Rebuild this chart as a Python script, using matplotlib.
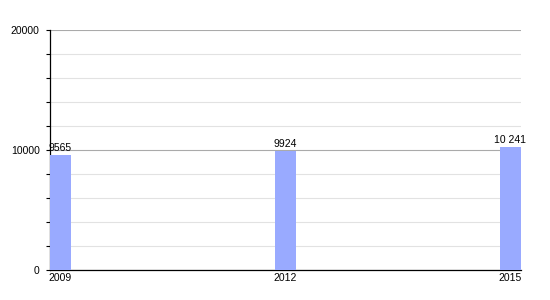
import matplotlib.pyplot as plt
from matplotlib.ticker import MultipleLocator

plt.rcParams['font.family'] = ['Liberation Sans', 'DejaVu Sans']

# data
years = [2009, 2012, 2015]
population = [9565, 9924, 10241]
value_labels = ['9565', '9924', '10 241']

fig = plt.figure(figsize=(5.5, 3), dpi=100)
ax = fig.add_axes([50 / 550, 0.1, 471 / 550, 0.8])

bars = ax.bar(years, population, width=0.28, color='#99aaff', zorder=3)

for b, lab in zip(bars, value_labels):
    ax.text(b.get_x() + b.get_width() / 2, b.get_height() + 150, lab,
            ha='center', va='bottom', fontsize=7.5, zorder=4)

ax.set_xlim(2009 - 0.14, 2015 + 0.14)
ax.set_ylim(0, 20000)
ax.set_xticks(years)
ax.set_xticklabels([str(y) for y in years])
ax.yaxis.set_major_locator(MultipleLocator(10000))
ax.yaxis.set_minor_locator(MultipleLocator(2000))

ax.grid(axis='y', which='major', color='#aaaaaa', linewidth=0.8, zorder=1)
ax.grid(axis='y', which='minor', color='#e2e2e2', linewidth=0.8, zorder=1)

for s in ['top', 'right']:
    ax.spines[s].set_visible(False)
ax.spines['left'].set_linewidth(0.9)
ax.spines['bottom'].set_linewidth(0.9)

ax.tick_params(axis='x', length=0, labelsize=7.5, pad=2)
ax.tick_params(axis='y', which='both', direction='out', length=3, width=0.8, labelsize=7.5, pad=4.5)

plt.savefig('out.png', dpi=100)
